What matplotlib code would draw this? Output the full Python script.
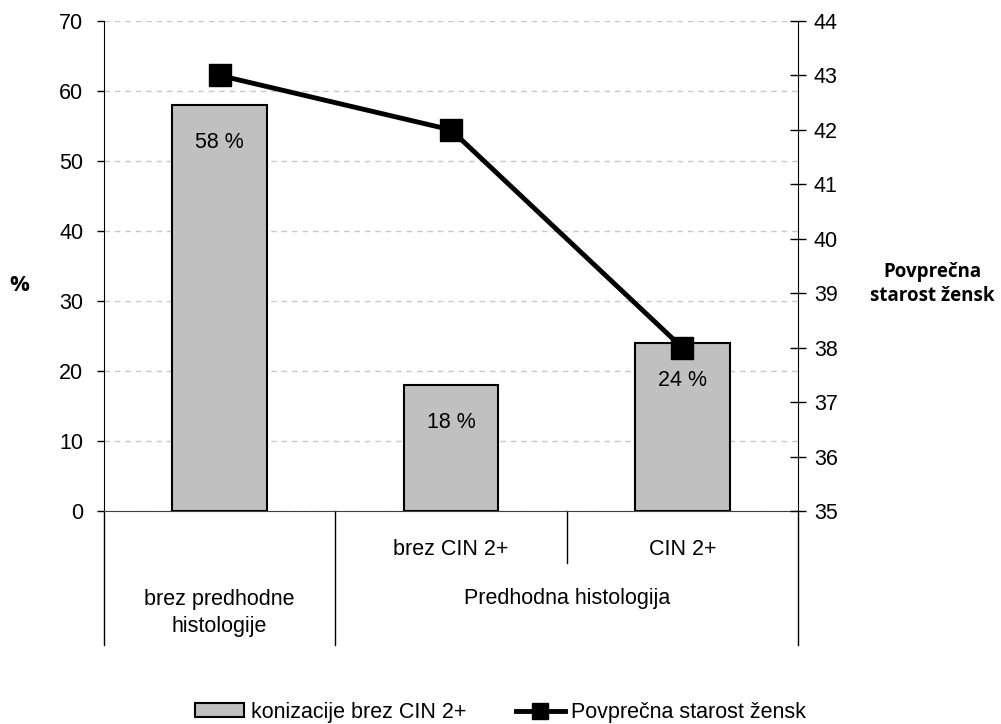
import matplotlib
matplotlib.use("Agg")
import matplotlib.pyplot as plt
import matplotlib.transforms as mtransforms
import numpy as np

# ---- data ----
categories = ["brez predhodne\nhistologije", "brez CIN 2+", "CIN 2+"]
group_label = "Predhodna histologija"
bar_values = [58, 18, 24]
bar_labels = ["58 %", "18 %", "24 %"]
age_values = [43, 42, 38]
left_ticks = [0, 10, 20, 30, 40, 50, 60, 70]
right_ticks = [35, 36, 37, 38, 39, 40, 41, 42, 43, 44]
bar_series_name = "konizacije brez CIN 2+"
line_series_name = "Povprečna starost žensk"

plt.rcParams['font.family'] = ['Liberation Sans', 'DejaVu Sans']
FS = 15.5

fig = plt.figure(figsize=(10.01, 7.24), dpi=100)
ax = fig.add_axes([0.1039, 0.2942, 0.6933, 0.6768])

x = np.arange(len(bar_values)) + 0.5
bars = ax.bar(x, bar_values, width=0.41, color='#c0c0c0', edgecolor='black',
              linewidth=1.5, label=bar_series_name, zorder=2)
ax.set_xlim(0, 3)
ax.set_ylim(0, 70)
ax.set_yticks(left_ticks)
ax.set_axisbelow(True)
ax.yaxis.grid(True, color='#c8c8c8', linestyle=(0, (4, 3.5)), linewidth=1)
ax.set_xticks([])
for s in ['top', 'right']:
    ax.spines[s].set_visible(False)
ax.spines['left'].set_color('black')
ax.spines['bottom'].set_color('#404040')
ax.tick_params(axis='y', direction='out', length=5, width=1, pad=10, labelsize=FS)

for xi, v, lab in zip(x, bar_values, bar_labels):
    ax.annotate(lab, (xi, v), xytext=(0, -27), textcoords='offset points',
                ha='center', va='center', fontsize=FS)

# right axis
ax2 = ax.twinx()
ax2.set_ylim(35, 44)
ax2.set_yticks(right_ticks)
for s in ['top', 'left', 'bottom']:
    ax2.spines[s].set_visible(False)
ax2.spines['right'].set_color('black')
ax2.tick_params(axis='y', direction='inout', length=11, width=1, pad=6, labelsize=FS)
line, = ax2.plot(x, age_values, color='black', linewidth=3.5, marker='s',
                 markersize=15.5, label=line_series_name, zorder=5)

# category labels and separators below axis
trans = mtransforms.blended_transform_factory(ax.transData, ax.transAxes)
for xs, y1 in [(0, -0.273), (1, -0.273), (2, -0.106), (3, -0.273)]:
    ax.plot([xs, xs], [0, y1], transform=trans, color='black', linewidth=1,
            clip_on=False)
ax.text(0.5, -0.208, categories[0], transform=trans, ha='center', va='center',
        fontsize=FS, linespacing=1.4)
ax.text(1.5, -0.0776, categories[1], transform=trans, ha='center', va='center',
        fontsize=FS)
ax.text(2.5, -0.0776, categories[2], transform=trans, ha='center', va='center',
        fontsize=FS)
ax.text(2.0, -0.1776, group_label, transform=trans, ha='center', va='center',
        fontsize=FS)

# axis titles
fig.text(19 / 1001, 1 - 285 / 724, "%", ha='center', va='center',
         fontsize=16, fontweight='bold', family=['Open Sans', 'DejaVu Sans'])
fig.text(932 / 1001, 1 - 284 / 724, "Povprečna\nstarost žensk", ha='center',
         va='center', fontsize=13.5, fontweight='bold', linespacing=1.3,
         family=['Open Sans', 'DejaVu Sans'])

fig.legend(handles=[bars, line], labels=[bar_series_name, line_series_name],
           loc='center', bbox_to_anchor=(0.5, 0.016), ncol=2, frameon=False,
           fontsize=FS, handlelength=2.3, handletextpad=0.3, columnspacing=2.3,
           handleheight=0.6, markerscale=0.7)

fig.savefig("out.png", dpi=100)
